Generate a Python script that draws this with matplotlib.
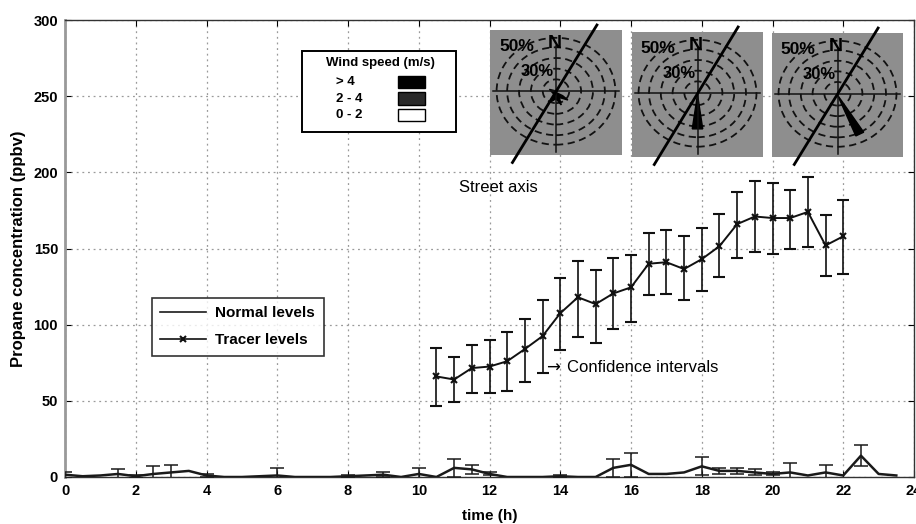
import numpy as np
import matplotlib
matplotlib.use("Agg")
import matplotlib.pyplot as plt
from matplotlib.patches import Ellipse, Polygon, Rectangle
from matplotlib.lines import Line2D

plt.rcParams['font.family'] = ['Liberation Sans', 'DejaVu Sans']

# ---------------- data ----------------
tracer_time = [10.5, 11, 11.5, 12, 12.5, 13, 13.5, 14, 14.5, 15, 15.5, 16,
               16.5, 17, 17.5, 18, 18.5, 19, 19.5, 20, 20.5, 21, 21.5, 22]
tracer_mean = [66, 64, 71.5, 72.5, 76, 84, 92.5, 107.5, 118, 113.5, 120.5, 124.5,
               140, 141, 136.5, 143, 151.5, 166, 171, 170, 170, 174, 152, 158]
tracer_upper = [84.5, 78.5, 86.5, 90, 95, 104, 116, 130.5, 142, 136, 143.5, 146,
                160, 162, 158, 163.5, 172.5, 187, 194, 193, 188.5, 197, 172, 182]
tracer_lower = [46.5, 49, 55, 55, 56.5, 62.5, 68, 83.5, 92, 88, 97, 102,
                119.5, 120, 116, 122, 131, 143.5, 148, 146.5, 150, 151, 132, 133]

normal_time = [0, 0.5, 1, 1.5, 2, 2.5, 3, 3.5, 4, 4.5, 5, 5.5, 6, 6.5, 7, 7.5,
               8, 8.5, 9, 9.5, 10, 10.5, 11, 11.5, 12, 12.5, 13, 13.5, 14, 14.5,
               15, 15.5, 16, 16.5, 17, 17.5, 18, 18.5, 19, 19.5, 20, 20.5, 21,
               21.5, 22, 22.5, 23, 23.5]
normal_mean = [1.5, 0.5, 1, 2, 0.5, 2, 3, 4, 1, 0, 0, 0.5, 1, 0, 0, 0,
               0.5, 1, 1.5, 0, 2, 0, 6, 5, 2, 0, 0, 0, 0.5, 0,
               0, 6, 8, 2, 2, 3, 7, 4, 4, 3, 2, 3, 1,
               3, 1, 14, 2, 1]
normal_err = [2, 0, 0, 3, 1, 5, 5, 0, 1, 0, 0, 0, 5, 0, 0, 0,
              1, 0, 1.5, 0, 4, 0, 6, 3, 1, 0, 0, 0, 1, 0,
              0, 6, 8, 0, 0, 0, 6, 2, 2, 2, 1, 6, 0,
              5, 0, 7, 0, 0]

x_ticks = list(range(0, 25, 2))
y_ticks = list(range(0, 301, 50))

wind_classes = ['> 4', '2 - 4', '0 - 2']
wind_colors = ['#000000', '#2a2a2a', '#ffffff']

# ---------------- figure ----------------
fig = plt.figure(figsize=(9.16, 5.24), dpi=100)
ax = fig.add_axes([65/916, 1-477/524, 849/916, 457/524])

ax.grid(True, linestyle=(0, (1.5, 3)), color='#9a9a9a', linewidth=0.9)
ax.set_axisbelow(True)

# normal levels
ax.plot(normal_time, normal_mean, color='#1a1a1a', lw=1.8, label='Normal levels', zorder=3)
nt = np.array(normal_time); nm = np.array(normal_mean); ne = np.array(normal_err)
m = ne > 0
ax.errorbar(nt[m], nm[m], yerr=ne[m], fmt='none', ecolor='#1a1a1a',
            elinewidth=1.1, capsize=5, capthick=1.1, zorder=3)

# tracer levels
tm = np.array(tracer_mean)
yerr = np.vstack([tm - np.array(tracer_lower), np.array(tracer_upper) - tm])
ax.errorbar(tracer_time, tracer_mean, yerr=yerr, fmt='-x', color='#111111',
            lw=1.4, ms=5, mew=1.5, elinewidth=1.2, capsize=4.5, capthick=1.2,
            label='Tracer levels', zorder=4)

ax.set_xlim(0, 24)
ax.set_ylim(0, 300)
ax.set_xticks(x_ticks)
ax.set_yticks(y_ticks)
ax.tick_params(direction='in', top=True, right=True, length=4, labelsize=10.5,
               pad=5)
for lab in ax.get_xticklabels() + ax.get_yticklabels():
    lab.set_fontweight('bold')
for s in ax.spines.values():
    s.set_linewidth(1.0)
    s.set_color('#333333')
ax.spines['left'].set_color('#999999')
ax.spines['left'].set_linewidth(2)

ax.set_xlabel('time (h)', fontsize=11, fontweight='bold', labelpad=8)
ax.set_ylabel('Propane concentration (ppbv)', fontsize=12, fontweight='bold', labelpad=5)

# legend
h1 = Line2D([], [], color='#1a1a1a', lw=1.2)
h2 = Line2D([], [], color='#111111', lw=1.2, marker='x', ms=5, mew=1.5)
leg = ax.legend([h1, h2], ['Normal levels', 'Tracer levels'],
                loc='upper left', bbox_to_anchor=((152-65)/849, (477-298)/457),
                fontsize=11, frameon=True, fancybox=False, edgecolor='black',
                handlelength=3.0, borderpad=0.55, labelspacing=0.85, borderaxespad=0,
                handletextpad=0.6)
leg.get_frame().set_linewidth(1.2)
for t in leg.get_texts():
    t.set_fontweight('bold')

# annotations
ax.text(13.6, 72, '\u2192', fontsize=12, va='center', ha='left',
        family=['DejaVu Sans'])
ax.text(14.2, 72, 'Confidence intervals', fontsize=12, va='center', ha='left')
ax.text(11.15, 190, 'Street axis', fontsize=12, va='center', ha='left')

# wind speed legend box (figure coords via pixels)
def px(x, y):
    return x/916, 1 - y/524

bx0, by0 = px(302, 132)
bx1, by1 = px(456, 51)
fig.patches.append(Rectangle((bx0, by0), bx1-bx0, by1-by0, transform=fig.transFigure,
                             facecolor='white', edgecolor='black', lw=1.4, zorder=5))
fig.text(*px(380, 63), 'Wind speed (m/s)', fontsize=9.5, fontweight='bold',
         ha='center', va='center', zorder=6)
for i, (lbl, col) in enumerate(zip(wind_classes, wind_colors)):
    yy = 82 + i*16.5
    fig.text(*px(336, yy), lbl, fontsize=9.5, fontweight='bold', ha='left', va='center', zorder=6)
    sx, sy = px(398, yy+6)
    fig.patches.append(Rectangle((sx, sy), 27/916, 12/524, transform=fig.transFigure,
                                 facecolor=col, edgecolor='black', lw=1.0, zorder=6))

# wind rose insets
insets = [(490, 30, 622, 155), (632, 32, 763, 157), (772, 33, 903, 157)]
arrows = [
    [(0, 0), (0.1, -0.05), (0.18, -0.12), (0.05, -0.08), (0.08, -0.2), (0, -0.1),
     (-0.08, -0.15), (-0.03, -0.03), (-0.1, 0.05), (0.02, 0.02)],
    [(0, 0), (0.08, -0.55), (-0.08, -0.55)],
    [(0, 0), (0.40, -0.60), (0.28, -0.66)],
]
for (x0, y0, x1, y1), arr in zip(insets, arrows):
    l, b = px(x0, y1)
    iax = fig.add_axes([l, b, (x1-x0)/916, (y1-y0)/524])
    iax.set_xlim(-1, 1); iax.set_ylim(-1, 1)
    iax.set_facecolor('#8e8e8e')
    for s in iax.spines.values():
        s.set_visible(False)
    iax.set_xticks([]); iax.set_yticks([])
    for r in [0.2, 0.38, 0.56, 0.74, 0.9]:
        iax.add_patch(Ellipse((0, 0.02), 2*r, 2*r*0.95, fill=False, ls=(0, (4, 2.5)),
                              lw=1.3, ec='#111111'))
    iax.plot([-0.95, 0.95], [0.02, 0.02], color='#111111', lw=1.1)
    iax.plot([0, 0], [-0.95, 0.75], color='#111111', lw=1.1)
    iax.add_patch(Polygon(arr, closed=True, fc='black', ec='black', lw=1.0))
    iax.plot([-0.66, 0.62], [-1.12, 1.08], color='black', lw=2.0, clip_on=False)
    iax.text(-0.6, 0.73, '50%', fontsize=12.5, fontweight='bold', ha='center', va='center')
    iax.text(-0.02, 0.79, 'N', fontsize=14, fontweight='bold', ha='center', va='center')
    iax.text(-0.28, 0.33, '30%', fontsize=12, fontweight='bold', ha='center', va='center')

fig.savefig('out.png', dpi=100)
